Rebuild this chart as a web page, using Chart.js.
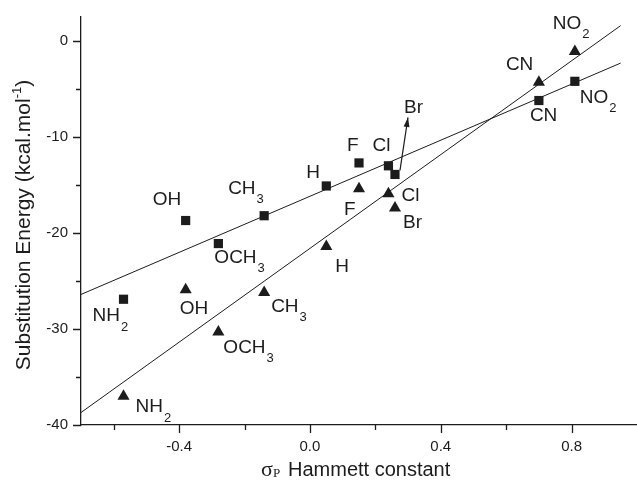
<!DOCTYPE html>
<html>
<head>
<meta charset="utf-8">
<script src="https://cdn.jsdelivr.net/npm/chart.js@4.4.1/dist/chart.umd.min.js"></script>
<style>
	html, body { margin: 0; padding: 0; background: #fff; overflow: hidden; }
	canvas { display: block; }
</style>
</head>
<body>
<canvas id="hammett" width="637" height="480"></canvas>
<script>
//data
const substituents = ["NH2", "OH", "OCH3", "CH3", "H", "F", "Cl", "Br", "CN", "NO2"]
const sigmaP = [-0.57, -0.38, -0.28, -0.14, 0.05, 0.15, 0.24, 0.26, 0.70, 0.81]
const squareEnergy = [-26.9, -18.7, -21.1, -18.2, -15.1, -12.7, -13.0, -13.9, -6.2, -4.2]
const triangleEnergy = [-37.0, -25.9, -30.3, -26.2, -21.4, -15.4, -15.9, -17.4, -4.3, -1.1]
const fitX = [-0.7, 0.95]
const squareFit = [-26.4, -2.3]
const triangleFit = [-38.7, 1.6]
const xTicks = [-0.6, -0.4, -0.2, 0.0, 0.2, 0.4, 0.6, 0.8]
const xMajor = [-0.4, 0.0, 0.4, 0.8]
const yTicks = [-40, -35, -30, -25, -20, -15, -10, -5, 0]
const yMajor = [-40, -30, -20, -10, 0]

//label offsets in px from each marker (left edge of text, vertical middle)
const squareLabelOffset = [[-31, 17], [-33, -21], [-4, 14], [-36, -27], [-20, -13], [-12, -17], [-16, -20], [9, -67], [-9, 15], [5, 16]]
const triangleLabelOffset = [[12, 11], [-6, 19], [5, 16], [7, 14], [9, 20], [-15, 21], [13, 2], [8, 15], [-33, -18], [-22, -28]]

const INK = "#1c1c1c"
const SANS = "'Liberation Sans', Arial, Helvetica, sans-serif"
const SERIF = "'Liberation Serif', 'DejaVu Serif', serif"

function toPoints(xs, ys) {
	return xs.map((x, i) => ({ x: x, y: ys[i] }))
}

function isMajor(list, v) {
	return list.some(m => Math.abs(m - v) < 1e-9)
}

function noPadding(scale) {
	scale.paddingTop = 0
	scale.paddingBottom = 0
	scale.paddingLeft = 0
	scale.paddingRight = 0
}

function drawChem(ctx, name, x, y) {
	let m = name.match(/^(.*?)(\d*)$/)
	ctx.font = "19px " + SANS
	ctx.textAlign = "left"
	ctx.textBaseline = "middle"
	ctx.fillText(m[1], x, y)
	if (m[2]) {
		let w = ctx.measureText(m[1]).width
		ctx.font = "13px " + SANS
		ctx.fillText(m[2], x + w + 1, y + 11)
	}
}

const decorations = {
	id: "decorations",
	afterDraw(chart) {
		let ctx = chart.ctx
		let xs = chart.scales.x
		let ys = chart.scales.y
		ctx.save()
		ctx.strokeStyle = INK
		ctx.fillStyle = INK
		ctx.lineWidth = 1.3

		//tick marks, outward
		ctx.beginPath()
		xs.ticks.forEach(t => {
			let px = Math.round(xs.getPixelForValue(t.value)) + 0.5
			let len = isMajor(xMajor, t.value) ? 8 : 5
			ctx.moveTo(px, ys.bottom)
			ctx.lineTo(px, ys.bottom + len)
		})
		ys.ticks.forEach(t => {
			let py = Math.round(ys.getPixelForValue(t.value)) + 0.5
			let len = isMajor(yMajor, t.value) ? 8 : 5
			ctx.moveTo(xs.left, py)
			ctx.lineTo(xs.left - len, py)
		})
		ctx.stroke()

		//point labels
		let sq = chart.getDatasetMeta(0).data
		let tr = chart.getDatasetMeta(1).data
		substituents.forEach((name, i) => {
			drawChem(ctx, name, sq[i].x + squareLabelOffset[i][0], sq[i].y + squareLabelOffset[i][1])
			drawChem(ctx, name, tr[i].x + triangleLabelOffset[i][0], tr[i].y + triangleLabelOffset[i][1])
		})

		//arrow from Br square up to its label
		let br = sq[substituents.indexOf("Br")]
		let x0 = br.x + 5, y0 = br.y - 4
		let x1 = br.x + 13, y1 = br.y - 57
		ctx.lineWidth = 1.2
		ctx.beginPath()
		ctx.moveTo(x0, y0)
		ctx.lineTo(x1, y1)
		ctx.stroke()
		let ang = Math.atan2(y1 - y0, x1 - x0)
		ctx.beginPath()
		ctx.moveTo(x1, y1)
		ctx.lineTo(x1 - 10 * Math.cos(ang - 0.3), y1 - 10 * Math.sin(ang - 0.3))
		ctx.lineTo(x1 - 10 * Math.cos(ang + 0.3), y1 - 10 * Math.sin(ang + 0.3))
		ctx.closePath()
		ctx.fill()

		//x axis title
		let mid = (xs.left + xs.right) / 2
		let textStart = mid - 71
		let base = 476
		ctx.textBaseline = "alphabetic"
		ctx.textAlign = "left"
		ctx.font = "22px " + SERIF
		ctx.fillText("σ", textStart - 27, base)
		ctx.font = "13px " + SERIF
		ctx.fillText("P", textStart - 15, base + 1)
		ctx.font = "20px " + SANS
		ctx.fillText("Hammett constant", textStart, base)

		//y axis title with superscript
		ctx.translate(29.5, 225)
		ctx.rotate(-Math.PI / 2)
		let a = "Substitution Energy (kcal.mol"
		let sup = "-1"
		let c = ")"
		ctx.font = "21px " + SANS
		let wa = ctx.measureText(a).width
		let wc = ctx.measureText(c).width
		ctx.font = "13px " + SANS
		let wsup = ctx.measureText(sup).width
		let start = -(wa + wsup + wc) / 2
		ctx.font = "21px " + SANS
		ctx.fillText(a, start, 0)
		ctx.font = "13px " + SANS
		ctx.fillText(sup, start + wa, -9)
		ctx.font = "21px " + SANS
		ctx.fillText(c, start + wa + wsup, 0)
		ctx.restore()
	}
}

let ctx = document.getElementById("hammett").getContext("2d")
let chart = new Chart(ctx, {
	type: "scatter",
	data: {
		datasets: [
			{
				label: "squares",
				data: toPoints(sigmaP, squareEnergy),
				pointStyle: "rect",
				pointRadius: 6.5,
				backgroundColor: INK,
				borderColor: INK,
				borderWidth: 0
			},
			{
				label: "triangles",
				data: toPoints(sigmaP, triangleEnergy),
				pointStyle: "triangle",
				pointRadius: 7,
				backgroundColor: INK,
				borderColor: INK,
				borderWidth: 0
			},
			{
				label: "fit squares",
				type: "line",
				data: toPoints(fitX, squareFit),
				borderColor: INK,
				borderWidth: 1,
				pointRadius: 0,
				fill: false
			},
			{
				label: "fit triangles",
				type: "line",
				data: toPoints(fitX, triangleFit),
				borderColor: INK,
				borderWidth: 1,
				pointRadius: 0,
				fill: false
			}
		]
	},
	options: {
		responsive: false,
		animation: false,
		layout: { autoPadding: false, padding: { top: 17, right: 0, left: 0, bottom: 0 } },
		plugins: {
			legend: { display: false },
			tooltip: { enabled: false }
		},
		scales: {
			x: {
				type: "linear",
				min: -0.7,
				max: 1.0,
				afterBuildTicks: scale => { scale.ticks = xTicks.map(v => ({ value: v })) },
				afterFit: scale => { scale.height = 55; noPadding(scale) },
				grid: { display: false, drawTicks: false },
				border: { display: true, color: INK, width: 1.3 },
				ticks: {
					padding: 13,
					color: INK,
					font: { family: SANS, size: 15 },
					maxRotation: 0,
					autoSkip: false,
					callback: v => isMajor(xMajor, v) ? v.toFixed(1) : ""
				}
			},
			y: {
				min: -40,
				max: 2.5,
				afterBuildTicks: scale => { scale.ticks = yTicks.map(v => ({ value: v })) },
				afterFit: scale => { scale.width = 81; noPadding(scale) },
				grid: { display: false, drawTicks: false },
				border: { display: true, color: INK, width: 1.3 },
				ticks: {
					padding: 13,
					color: INK,
					font: { family: SANS, size: 15 },
					autoSkip: false,
					callback: v => isMajor(yMajor, v) ? String(v) : ""
				}
			}
		}
	},
	plugins: [decorations]
})
</script>
</body>
</html>
